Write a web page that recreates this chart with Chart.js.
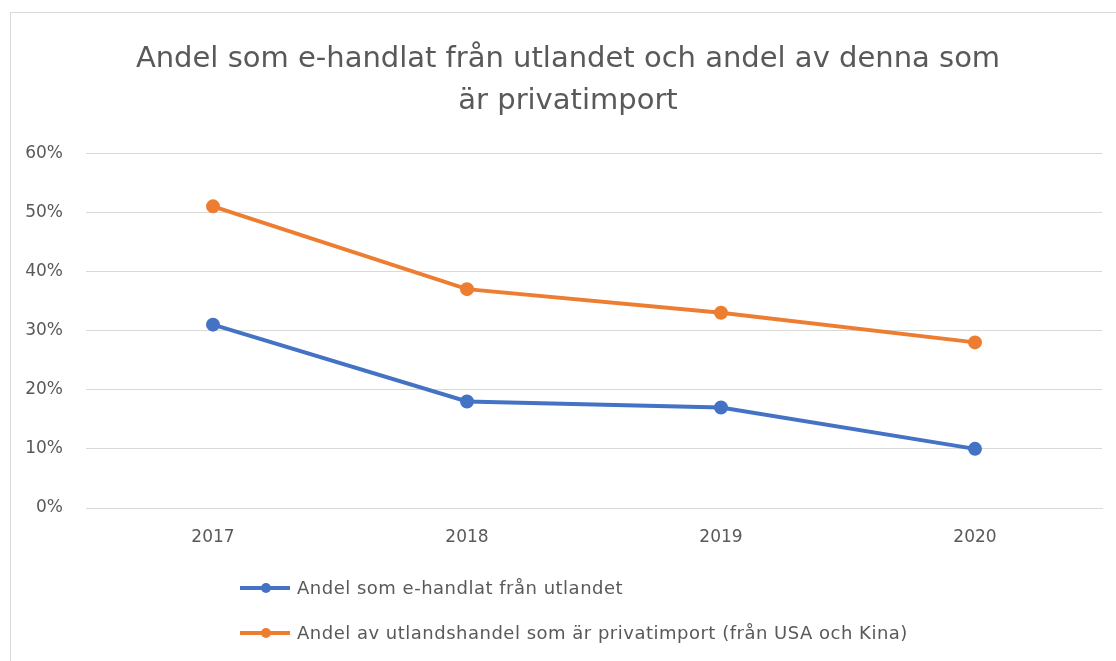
<!DOCTYPE html>
<html>
<head>
<meta charset="utf-8">
<script src="https://cdn.jsdelivr.net/npm/chart.js@4.4.0/dist/chart.umd.min.js"></script>
<style>
  html, body { margin: 0; padding: 0; background: #fff; overflow: hidden; }
  #frame { position: absolute; left: 10px; top: 12px; width: 1120px; height: 660px; border: 1px solid #d9d9d9; }
  #wrap { position: absolute; left: 0; top: 0; width: 1100px; height: 649px; }
  #legend { position: absolute; left: 229px; top: 552px; font-family: "DejaVu Sans", sans-serif; font-size: 18px; letter-spacing: 0.5px; color: #595959; }
  .item { height: 45px; display: flex; align-items: center; }
  .sym { position: relative; width: 50px; height: 14px; margin-right: 7px; }
  .sym .ln { position: absolute; left: 0; right: 0; top: 5px; height: 4px; }
  .sym .dot { position: absolute; left: 21px; top: 2px; width: 10px; height: 10px; border-radius: 50%; }
</style>
</head>
<body>
<div id="frame">
  <div id="wrap"><canvas id="chart"></canvas></div>
  <div id="legend"></div>
</div>
<script>
var years = ['2017', '2018', '2019', '2020'];
var ehandelUtland = [0.31, 0.18, 0.17, 0.10];
var privatimport = [0.51, 0.37, 0.33, 0.28];
var seriesNames = ['Andel som e-handlat från utlandet', 'Andel av utlandshandel som är privatimport (från USA och Kina)'];
var titleLines = ['Andel som e-handlat från utlandet och andel av denna som', 'är privatimport'];

var blue = '#4472c4', orange = '#ed7d31', grey = '#595959';

function ds(label, data, col) {
    return { label: label, data: data, borderColor: col, backgroundColor: col, borderWidth: 4,
             pointRadius: 5, pointHoverRadius: 5, tension: 0 };
}

var chart = new Chart(document.getElementById('chart'), {
    type: 'line',
    data: { labels: years, datasets: [ds(seriesNames[0], ehandelUtland, blue), ds(seriesNames[1], privatimport, orange)] },
    options: {
        responsive: true, maintainAspectRatio: false, animation: false,
        layout: { padding: { left: 14, right: 0, top: 0, bottom: 109 } },
        plugins: {
            legend: { display: false },
            tooltip: { enabled: false },
            title: { display: true, text: titleLines, color: grey,
                     font: { family: 'DejaVu Sans', size: 29, weight: 'normal', lineHeight: 1.45 },
                     padding: { top: 25, bottom: 31 } }
        },
        scales: {
            x: {
                offset: true,
                grid: { display: false },
                border: { color: '#d9d9d9', width: 1 },
                ticks: { color: grey, padding: 11, font: { family: 'DejaVu Sans', size: 17 } },
                afterFit: function(s) { s.height = 45; }
            },
            y: {
                min: 0, max: 0.6,
                grid: { color: '#d9d9d9', drawTicks: false },
                border: { display: false },
                ticks: { stepSize: 0.1, color: grey, padding: 23, font: { family: 'DejaVu Sans', size: 17 },
                         callback: function(v) { return Math.round(v * 100) + '%'; } },
                afterFit: function(s) { s.width = 61; }
            }
        }
    }
});

// legend like Excel: line with marker, one series per row
var leg = document.getElementById('legend');
chart.data.datasets.forEach(function(d) {
    var row = document.createElement('div');
    row.className = 'item';
    row.innerHTML = '<span class="sym"><span class="ln" style="background:' + d.borderColor + '"></span>' +
        '<span class="dot" style="background:' + d.borderColor + '"></span></span><span>' + d.label + '</span>';
    leg.appendChild(row);
});
</script>
</body>
</html>
